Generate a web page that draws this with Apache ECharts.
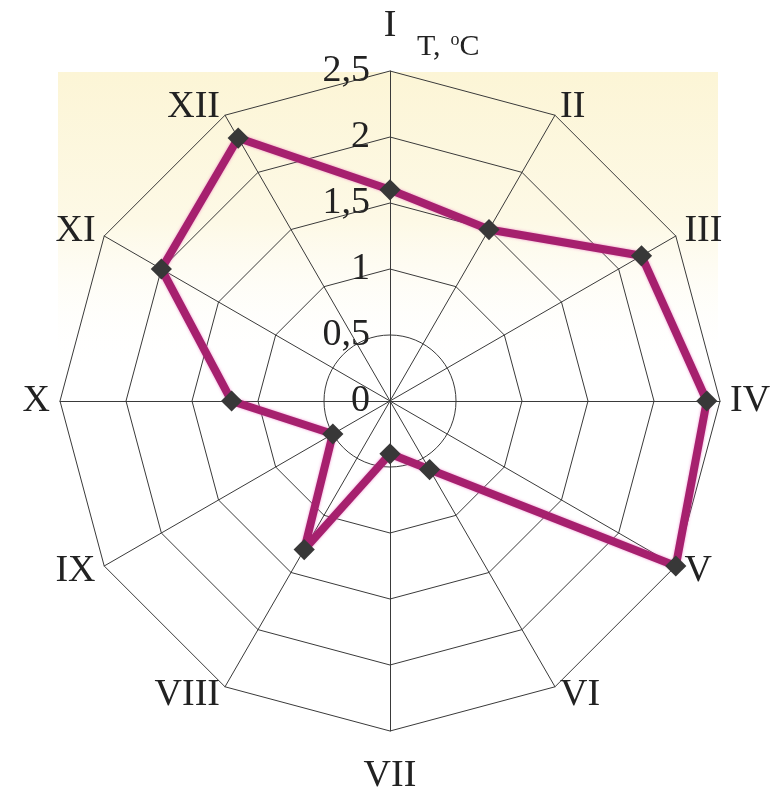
<!DOCTYPE html>
<html>
<head>
<meta charset="utf-8">
<script src="https://cdn.jsdelivr.net/npm/echarts@6/dist/echarts.min.js"></script>
<style>
html, body { margin: 0; padding: 0; background: #fff; }
#main { width: 780px; height: 794px; }
</style>
</head>
<body>
<div id="main"></div>
<script>
// месяцы, по часовой стрелке от верхней оси
const months = ['I', 'II', 'III', 'IV', 'V', 'VI', 'VII', 'VIII', 'IX', 'X', 'XI', 'XII'];
// T, °C по месяцам
const tempValues = [1.6, 1.5, 2.2, 2.4, 2.5, 0.6, 0.4, 1.3, 0.5, 1.2, 2.0, 2.3];
// подписи шкалы
const scaleLabels = ['0', '0,5', '1', '1,5', '2', '2,5'];
const scaleMax = 2.5;
const scaleStep = 0.5;

// echarts раскладывает оси против часовой стрелки -> идём в обратном порядке
const order = [0].concat(months.map((m, i) => i).slice(1).reverse());

const cx = 390, cy = 401, R = 330;
const lineCol = '#3a3a3a';
const serif = 'Liberation Serif';

let myChart = echarts.init(document.getElementById('main'));

const indicators = order.map((idx, k) => {
	const ind = { name: months[idx], max: scaleMax, min: 0 };
	if (idx === 0) {
		ind.nameGap = 26;
		// подписи шкалы только на оси I
		ind.axisLabel = {
			show: true,
			fontFamily: serif,
			fontSize: 38,
			color: '#222',
			margin: 20,
			padding: [10, 0, 0, 0],
			formatter: v => scaleLabels[Math.round(v / scaleStep)]
		};
	}
	if (idx === 6) ind.nameGap = 26;
	return ind;
});

myChart.setOption({
	backgroundColor: '#fff',
	animation: false,
	graphic: [
		{
			// бледно-жёлтая подложка сверху
			type: 'rect',
			z: -10,
			shape: { x: 58, y: 72, width: 660, height: 300 },
			style: {
				fill: {
					type: 'linear', x: 0, y: 0, x2: 0, y2: 1,
					colorStops: [
						{ offset: 0, color: '#fcf5d6' },
						{ offset: 0.5, color: '#fdf9e6' },
						{ offset: 1, color: 'rgba(255,255,255,0)' }
					]
				}
			}
		}
	],
	title: {
		text: '{t|T,}  {o|o}{t|C}',
		left: 412,
		top: 26,
		textStyle: {
			fontWeight: 'normal',
			rich: {
				t: { fontFamily: serif, fontSize: 30, color: '#222' },
				o: { fontFamily: serif, fontSize: 18, color: '#222', verticalAlign: 'top', padding: [0, 0, 14, 0] }
			}
		}
	},
	radar: [
		{
			center: [cx, cy],
			radius: R,
			startAngle: 90,
			splitNumber: 5,
			shape: 'polygon',
			indicator: indicators,
			axisName: {
				fontFamily: serif,
				fontSize: 38,
				color: '#222'
			},
			nameGap: 10,
			axisLine: { lineStyle: { color: lineCol, width: 1 } },
			splitLine: {
				lineStyle: {
					// первое кольцо (0,5) рисуется окружностью отдельно
					color: [lineCol, 'rgba(0,0,0,0)', lineCol, lineCol, lineCol, lineCol],
					width: 1
				}
			},
			splitArea: { show: false },
			axisLabel: { show: false }
		},
		{
			// внутреннее кольцо 0,5 - окружность
			center: [cx, cy],
			radius: R / 5,
			startAngle: 90,
			splitNumber: 1,
			shape: 'circle',
			indicator: months.map(m => ({ name: '', max: 1 })),
			axisName: { show: false },
			axisLine: { show: false },
			splitLine: { lineStyle: { color: lineCol, width: 1 } },
			splitArea: { show: false },
			axisLabel: { show: false }
		}
	],
	series: [
		{
			type: 'radar',
			radarIndex: 0,
			symbol: 'rect',
			symbolSize: 15,
			symbolRotate: 45,
			itemStyle: { color: '#383838' },
			lineStyle: {
				color: '#a6206e',
				width: 8,
				shadowColor: 'rgba(230,80,180,0.6)',
				shadowBlur: 3
			},
			z: 5,
			data: [
				{ value: order.map(i => tempValues[i]), name: 'T' }
			]
		}
	]
});
</script>
</body>
</html>
